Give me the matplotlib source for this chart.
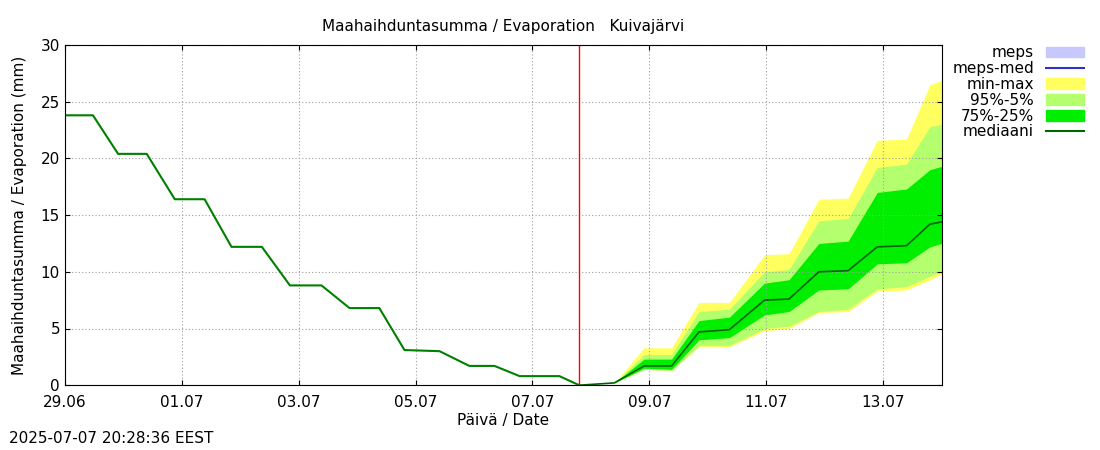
import matplotlib.pyplot as plt
from matplotlib.patches import Patch
from matplotlib.lines import Line2D

# days since 29.06 00:00
hist_day = [0, 0.48, 0.91, 1.40, 1.88, 2.39, 2.85, 3.37, 3.85, 4.39, 4.87, 5.38, 5.81, 6.41,
            6.92, 7.35, 7.78, 8.46, 8.80]
hist_val = [23.8, 23.8, 20.4, 20.4, 16.4, 16.4, 12.2, 12.2, 8.8, 8.8, 6.8, 6.8, 3.1, 3.0,
            1.7, 1.7, 0.8, 0.8, 0.0]

fc_day = [8.80, 9.40, 9.91, 10.38, 10.85, 11.37, 11.97, 12.39, 12.90, 13.40, 13.90, 14.40, 14.80, 15.0]
fc_med = [0.0, 0.2, 1.7, 1.7, 4.7, 4.9, 7.5, 7.6, 10.0, 10.1, 12.2, 12.3, 14.2, 14.4]
fc_p25 = [0.0, 0.2, 1.5, 1.4, 4.0, 4.2, 6.2, 6.5, 8.4, 8.5, 10.7, 10.8, 12.2, 12.5]
fc_p75 = [0.0, 0.2, 2.3, 2.3, 5.7, 6.0, 9.0, 9.3, 12.5, 12.7, 17.0, 17.3, 19.0, 19.3]
fc_p05 = [0.0, 0.2, 1.4, 1.3, 3.5, 3.5, 5.0, 5.2, 6.5, 6.7, 8.5, 8.7, 9.6, 10.0]
fc_p95 = [0.0, 0.2, 2.7, 2.7, 6.5, 6.7, 10.0, 10.2, 14.5, 14.7, 19.2, 19.5, 22.8, 23.0]
fc_min = [0.0, 0.2, 1.4, 1.3, 3.4, 3.4, 4.8, 5.0, 6.4, 6.5, 8.3, 8.4, 9.3, 9.8]
fc_max = [0.0, 0.2, 3.3, 3.3, 7.3, 7.3, 11.5, 11.6, 16.4, 16.5, 21.6, 21.7, 26.5, 26.9]

tick_days = [0, 2, 4, 6, 8, 10, 12, 14]
tick_labels = ['29.06', '01.07', '03.07', '05.07', '07.07', '09.07', '11.07', '13.07']
now_day = 8.80

fig = plt.figure(figsize=(11, 4.5), dpi=100)
ax = fig.add_axes([0.059, 0.144, 0.797, 0.756])

ax.fill_between(fc_day, fc_min, fc_max, color='#ffff60', lw=0)
ax.fill_between(fc_day, fc_p05, fc_p95, color='#b4ff6e', lw=0)
ax.fill_between(fc_day, fc_p25, fc_p75, color='#00ee00', lw=0)
ax.plot(fc_day, fc_med, color='#006400', lw=1.2)
ax.plot(hist_day, hist_val, color='#008000', lw=1.5)
ax.axvline(now_day, color='red', lw=1)

ax.set_xlim(0, 15)
ax.set_ylim(0, 30)
ax.set_xticks(tick_days)
ax.set_xticklabels(tick_labels)
ax.set_yticks(range(0, 31, 5))
ax.grid(True, color='#a0a0a0', linestyle=(0, (1, 2)), lw=0.8)
ax.tick_params(direction='in', top=True, right=True, labelsize=11)
ax.tick_params(axis='x', pad=7)
ax.set_title('Maahaihduntasumma / Evaporation   Kuivajärvi', fontsize=11, pad=10)
ax.set_xlabel('Päivä / Date', fontsize=11, labelpad=2)
ax.set_ylabel('Maahaihduntasumma / Evaporation (mm)', fontsize=11, labelpad=10)

handles = [Patch(color='#c8c8ff'), Line2D([], [], color='#3030d0'), Patch(color='#ffff60'),
           Patch(color='#b4ff6e'), Patch(color='#00ee00'), Line2D([], [], color='#006400')]
labels = ['meps', 'meps-med', 'min-max', '95%-5%', '75%-25%', 'mediaani']
ax.legend(handles, labels, loc='upper left', bbox_to_anchor=(1.0, 1.03), frameon=False,
          markerfirst=False, fontsize=11, handlelength=2.5, labelspacing=0.05, borderaxespad=0.3)

fig.text(0.008, 0.015, '2025-07-07 20:28:36 EEST', fontsize=11)
fig.savefig('out.png')
